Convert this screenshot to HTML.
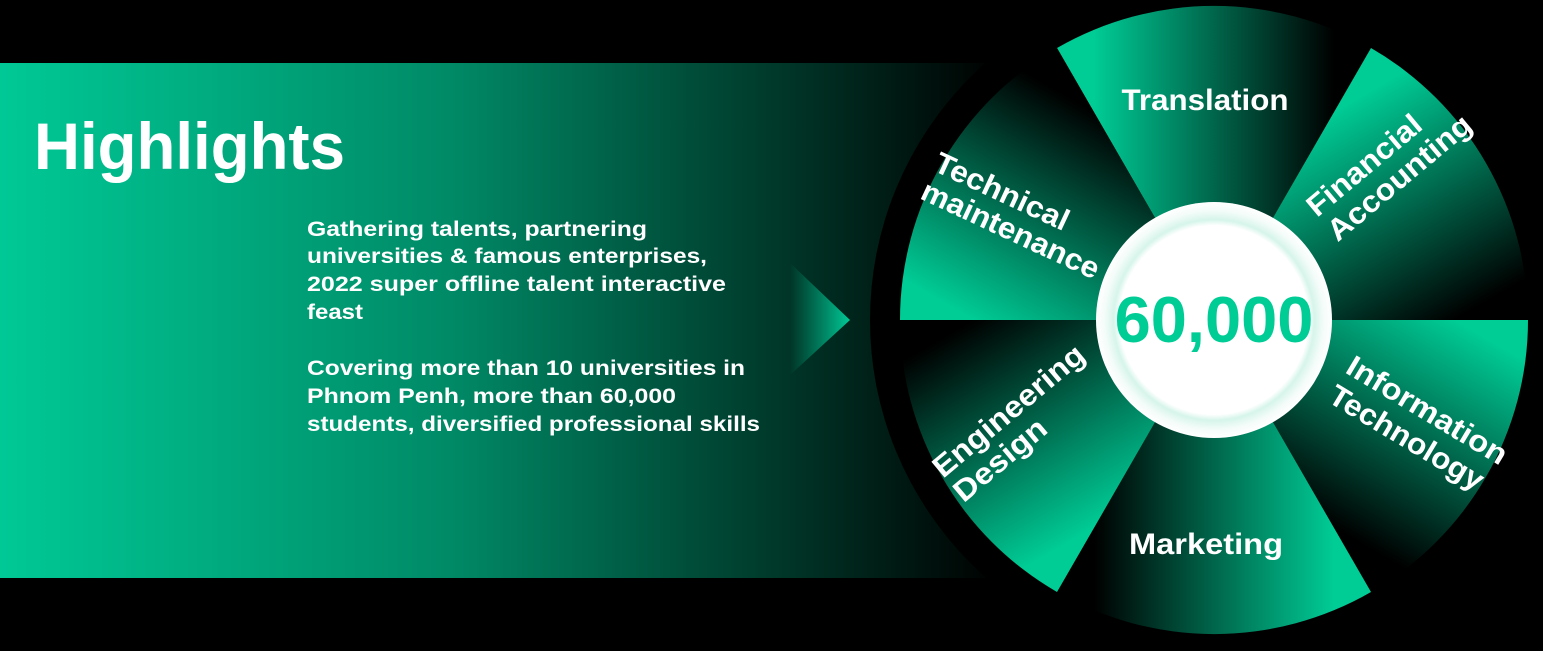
<!DOCTYPE html>
<html><head><meta charset="utf-8"><style>
html,body{margin:0;padding:0;background:#000;}
svg{display:block;}
text{font-family:"Liberation Sans",sans-serif;font-weight:bold;}
</style></head><body>
<svg width="1543" height="651" viewBox="0 0 1543 651" xmlns="http://www.w3.org/2000/svg">
<defs>
<linearGradient id="ban" x1="0" y1="0" x2="1" y2="0">
<stop offset="0" stop-color="#00c996"/><stop offset="0.45" stop-color="#008a66"/><stop offset="1" stop-color="#000"/>
</linearGradient>
<linearGradient id="chev" x1="790" y1="0" x2="850" y2="0" gradientUnits="userSpaceOnUse">
<stop offset="0" stop-color="#00c996" stop-opacity="0"/><stop offset="1" stop-color="#00c996"/>
</linearGradient>
<radialGradient id="ring" cx="1214" cy="320" r="118" gradientUnits="userSpaceOnUse">
<stop offset="0.8" stop-color="#fff"/><stop offset="0.85" stop-color="#d6f5ea"/><stop offset="0.93" stop-color="#f4fcf9"/><stop offset="1" stop-color="#fff"/>
</radialGradient>
<linearGradient id="g0" gradientUnits="userSpaceOnUse" x1="1064" y1="60" x2="1364" y2="60"><stop offset="0.1" stop-color="#00cc96"/><stop offset="0.9" stop-color="#000"/></linearGradient>
<linearGradient id="g1" gradientUnits="userSpaceOnUse" x1="1364" y1="60" x2="1514" y2="320"><stop offset="0.1" stop-color="#00cc96"/><stop offset="0.9" stop-color="#000"/></linearGradient>
<linearGradient id="g2" gradientUnits="userSpaceOnUse" x1="1514" y1="320" x2="1364" y2="580"><stop offset="0.1" stop-color="#00cc96"/><stop offset="0.9" stop-color="#000"/></linearGradient>
<linearGradient id="g3" gradientUnits="userSpaceOnUse" x1="1364" y1="580" x2="1064" y2="580"><stop offset="0.1" stop-color="#00cc96"/><stop offset="0.9" stop-color="#000"/></linearGradient>
<linearGradient id="g4" gradientUnits="userSpaceOnUse" x1="1064" y1="580" x2="914" y2="320"><stop offset="0.1" stop-color="#00cc96"/><stop offset="0.9" stop-color="#000"/></linearGradient>
<linearGradient id="g5" gradientUnits="userSpaceOnUse" x1="914" y1="320" x2="1064" y2="60"><stop offset="0.1" stop-color="#00cc96"/><stop offset="0.9" stop-color="#000"/></linearGradient>
</defs>
<rect x="0" y="0" width="1543" height="651" fill="#000"/>
<rect x="0" y="63" width="1000" height="515" fill="url(#ban)"/>
<polygon points="789,262 850,320 789,376" fill="url(#chev)"/>
<text x="34" y="169" font-size="66" fill="#fff" textLength="311" lengthAdjust="spacingAndGlyphs">Highlights</text>
<g font-size="21" fill="#fff">
<text x="307" y="236" textLength="340" lengthAdjust="spacingAndGlyphs">Gathering talents, partnering</text>
<text x="307" y="263" textLength="400" lengthAdjust="spacingAndGlyphs">universities &amp; famous enterprises,</text>
<text x="307" y="291" textLength="419" lengthAdjust="spacingAndGlyphs">2022 super offline talent interactive</text>
<text x="307" y="319" textLength="56" lengthAdjust="spacingAndGlyphs">feast</text>
<text x="307" y="375" textLength="438" lengthAdjust="spacingAndGlyphs">Covering more than 10 universities in</text>
<text x="307" y="403" textLength="369" lengthAdjust="spacingAndGlyphs">Phnom Penh, more than 60,000</text>
<text x="307" y="431" textLength="453" lengthAdjust="spacingAndGlyphs">students, diversified professional skills</text>
</g>
<circle cx="1214" cy="320" r="344" fill="#000"/>
<path d="M1214,320 L1371,48 A314,314 0 0 0 1057,48 Z" fill="url(#g0)"/>
<path d="M1214,320 L1528,320 A314,314 0 0 0 1371,48 Z" fill="url(#g1)"/>
<path d="M1214,320 L1371,592 A314,314 0 0 0 1528,320 Z" fill="url(#g2)"/>
<path d="M1214,320 L1057,592 A314,314 0 0 0 1371,592 Z" fill="url(#g3)"/>
<path d="M1214,320 L900,320 A314,314 0 0 0 1057,592 Z" fill="url(#g4)"/>
<path d="M1214,320 L1057,48 A314,314 0 0 0 900,320 Z" fill="url(#g5)"/>
<circle cx="1214" cy="320" r="118" fill="url(#ring)"/>
<text x="1214" y="342" font-size="65" fill="#00cc96" text-anchor="middle">60,000</text>
<g font-size="30" fill="#fff">
<text x="1205" y="110" text-anchor="middle" textLength="167" lengthAdjust="spacingAndGlyphs">Translation</text>
<text x="1206" y="554" text-anchor="middle" textLength="154" lengthAdjust="spacingAndGlyphs">Marketing</text>
<g transform="translate(932,170) rotate(25)"><text x="0" y="0" textLength="145" lengthAdjust="spacingAndGlyphs">Technical</text><text x="0" y="31" textLength="193" lengthAdjust="spacingAndGlyphs">maintenance</text></g>
<g transform="translate(1317,218) rotate(-40)"><text x="0" y="0" textLength="140" lengthAdjust="spacingAndGlyphs">Financial</text><text x="0" y="32" textLength="178" lengthAdjust="spacingAndGlyphs">Accounting</text></g>
<g transform="translate(1344,372) rotate(31)"><text x="0" y="0" textLength="182" lengthAdjust="spacingAndGlyphs">Information</text><text x="0" y="34" textLength="175" lengthAdjust="spacingAndGlyphs">Technology</text></g>
<g transform="translate(943,479) rotate(-40)"><text x="0" y="0" textLength="188" lengthAdjust="spacingAndGlyphs">Engineering</text><text x="0" y="32" textLength="112" lengthAdjust="spacingAndGlyphs">Design</text></g>
</g>
</svg>
</body></html>
